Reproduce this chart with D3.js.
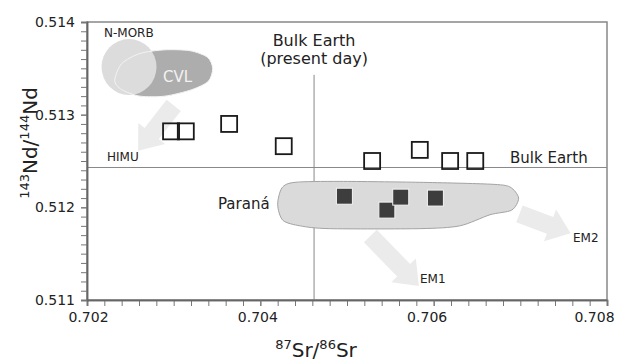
<!DOCTYPE html>
<html>
<head>
<meta charset="utf-8">
<title>Sr-Nd isotopes</title>
<script src="https://d3js.org/d3.v7.min.js"></script>
<style>
  body { margin: 0; background: #fff; }
  text { font-family: "DejaVu Sans", sans-serif; fill: #222; }
</style>
</head>
<body>
<script>
// open squares (samples)
const openSr = [0.70297, 0.70314, 0.70364, 0.70427, 0.70529, 0.70584, 0.70619, 0.70648];
const openNd = [0.51282, 0.51282, 0.51290, 0.51266, 0.51250, 0.51262, 0.51250, 0.51250];

// filled squares (Paraná samples)
const filledSr = [0.70497, 0.70546, 0.70562, 0.70602];
const filledNd = [0.51212, 0.51197, 0.51211, 0.51210];

// bulk earth reference
const bulkSr = 0.70462;
const bulkNd = 0.51243;
const bulkLineTop = 0.51343;

// fields
const nmorbCentre = [0.702485, 0.513514];
const nmorbRadius = [0.000317, 0.000302];
const cvlField = [
  [0.70232, 0.51337], [0.70240, 0.51355], [0.70261, 0.51366], [0.70290, 0.51370],
  [0.70319, 0.51369], [0.70339, 0.51362], [0.70345, 0.51350], [0.70340, 0.51336],
  [0.70321, 0.51327], [0.70290, 0.51320], [0.70261, 0.51320], [0.70240, 0.51327]
];
const paranaField = [
  [0.70420, 0.51203], [0.70425, 0.51221], [0.70440, 0.51227], [0.70492, 0.51228],
  [0.70584, 0.51227], [0.70665, 0.51225], [0.70688, 0.51222], [0.70698, 0.51210],
  [0.70690, 0.51197], [0.70665, 0.51192], [0.70630, 0.51180], [0.70584, 0.51177],
  [0.70480, 0.51177], [0.70446, 0.51180], [0.70426, 0.51186]
];

// trend arrows: [from, to]
const arrows = [
  [[0.70300, 0.51310], [0.70259, 0.51261]],   // HIMU
  [[0.70527, 0.51169], [0.70583, 0.51115]],   // EM1
  [[0.70699, 0.51193], [0.70758, 0.51172]]    // EM2
];

const xMajor = [0.702, 0.704, 0.706, 0.708];
const yMajor = [0.511, 0.512, 0.513, 0.514];

const W = 618, H = 362;
const svg = d3.select("body").append("svg")
  .attr("width", W).attr("height", H);

const x = d3.scaleLinear().domain([0.702, 0.708]).range([87, 607]);
const y = d3.scaleLinear().domain([0.511, 0.514]).range([300, 22]);

// frame
svg.append("rect")
  .attr("x", 87).attr("y", 22)
  .attr("width", 520).attr("height", 278)
  .attr("fill", "none").attr("stroke", "#888").attr("stroke-width", 1.5);

// reference lines
svg.append("line")
  .attr("x1", x(0.702)).attr("x2", x(0.708))
  .attr("y1", y(bulkNd)).attr("y2", y(bulkNd))
  .attr("stroke", "#888").attr("stroke-width", 1);
svg.append("line")
  .attr("x1", x(bulkSr)).attr("x2", x(bulkSr))
  .attr("y1", y(bulkLineTop)).attr("y2", y(0.511))
  .attr("stroke", "#888").attr("stroke-width", 1);

// arrows
function arrowPath(a) {
  const x0 = x(a[0][0]), y0 = y(a[0][1]);
  const x1 = x(a[1][0]), y1 = y(a[1][1]);
  const len = Math.hypot(x1 - x0, y1 - y0);
  const ux = (x1 - x0) / len, uy = (y1 - y0) / len;
  const nx = -uy, ny = ux;
  const sw = 9, hw = 17, hl = 22;
  const bx = x1 - ux * hl, by = y1 - uy * hl;
  const pts = [
    [x0 + nx * sw, y0 + ny * sw],
    [bx + nx * sw, by + ny * sw],
    [bx + nx * hw, by + ny * hw],
    [x1, y1],
    [bx - nx * hw, by - ny * hw],
    [bx - nx * sw, by - ny * sw],
    [x0 - nx * sw, y0 - ny * sw]
  ];
  return "M" + pts.map(p => p.join(",")).join("L") + "Z";
}
svg.append("g").selectAll("path").data(arrows).join("path")
  .attr("d", arrowPath)
  .attr("fill", "#ebebeb");

// fields
const closed = d3.line().x(d => x(d[0])).y(d => y(d[1])).curve(d3.curveCardinalClosed.tension(0.2));

svg.append("path").datum(cvlField)
  .attr("d", closed).attr("fill", "#adadad");
svg.append("ellipse")
  .attr("cx", x(nmorbCentre[0])).attr("cy", y(nmorbCentre[1]))
  .attr("rx", x(nmorbCentre[0] + nmorbRadius[0]) - x(nmorbCentre[0]))
  .attr("ry", y(nmorbCentre[1] - nmorbRadius[1]) - y(nmorbCentre[1]))
  .attr("fill", "#dcdcdc");
svg.append("path").datum(cvlField)
  .attr("d", closed).attr("fill", "none")
  .attr("stroke", "#f4f4f4").attr("stroke-width", 1);

svg.append("path").datum(paranaField)
  .attr("d", closed)
  .attr("fill", "#dadada").attr("stroke", "#a3a3a3").attr("stroke-width", 1);

// axes
const xAxisMinor = d3.axisBottom(x).tickValues(d3.range(0, 31).map(i => 0.702 + i * 0.0002))
  .tickSize(6).tickFormat("");
const xAxisMajor = d3.axisBottom(x).tickValues(xMajor).tickSize(6).tickPadding(6)
  .tickFormat(d3.format(".3f"));
const yAxisMinor = d3.axisLeft(y).tickValues(d3.range(0, 31).map(i => 0.511 + i * 0.0001))
  .tickSize(6).tickFormat("");
const yAxisMajor = d3.axisLeft(y).tickValues(yMajor).tickSize(6).tickPadding(6)
  .tickFormat(d3.format(".3f"));

function styleAxis(g) {
  g.select(".domain").attr("stroke", "#666").attr("stroke-width", 1.5);
  g.selectAll(".tick line").attr("stroke", "#777");
  g.selectAll(".tick text").attr("fill", "#222")
    .style("font-family", "DejaVu Sans, sans-serif").style("font-size", "14px");
}
svg.append("g").attr("transform", "translate(0,300)").call(xAxisMinor).call(styleAxis);
const gx = svg.append("g").attr("transform", "translate(0,300)").call(xAxisMajor).call(styleAxis);
// labels in the original drift left towards the right edge
const xLabelShift = [1, -3, -7, -13];
gx.selectAll(".tick text").attr("dx", (d, i) => xLabelShift[i]);
svg.append("g").attr("transform", "translate(87,0)").call(yAxisMinor).call(styleAxis);
svg.append("g").attr("transform", "translate(87,0)").call(yAxisMajor).call(styleAxis);

// samples
const sq = 16;
svg.append("g").selectAll("rect").data(openSr).join("rect")
  .attr("x", (d, i) => x(d) - sq / 2)
  .attr("y", (d, i) => y(openNd[i]) - sq / 2)
  .attr("width", sq).attr("height", sq)
  .attr("fill", "none").attr("stroke", "#1a1a1a").attr("stroke-width", 1.8);

svg.append("g").selectAll("rect").data(filledSr).join("rect")
  .attr("x", (d, i) => x(d) - sq / 2)
  .attr("y", (d, i) => y(filledNd[i]) - sq / 2)
  .attr("width", sq).attr("height", sq)
  .attr("fill", "#3d3d3d").attr("stroke", "#f4f4f4").attr("stroke-width", 1);

// labels
const labels = [
  { t: "N-MORB", x: 104, y: 37, s: 12 },
  { t: "HIMU", x: 107, y: 161, s: 12 },
  { t: "Paraná", x: 218, y: 209, s: 15 },
  { t: "Bulk Earth", x: 510, y: 163, s: 15 },
  { t: "EM1", x: 420, y: 283, s: 12 },
  { t: "EM2", x: 573, y: 242, s: 12 }
];
svg.append("g").selectAll("text").data(labels).join("text")
  .attr("x", d => d.x).attr("y", d => d.y)
  .style("font-size", d => d.s + "px")
  .text(d => d.t);

svg.append("text").attr("x", 163).attr("y", 82)
  .style("font-size", "15px").style("fill", "#f2f2f2").text("CVL");

svg.append("text").attr("x", x(bulkSr)).attr("y", 46)
  .attr("text-anchor", "middle").style("font-size", "16px").text("Bulk Earth");
svg.append("text").attr("x", x(bulkSr)).attr("y", 64)
  .attr("text-anchor", "middle").style("font-size", "16px").text("(present day)");

// axis titles
const xt = svg.append("text").attr("x", 316).attr("y", 357)
  .attr("text-anchor", "middle").style("font-size", "20px");
xt.append("tspan").attr("dy", -8).style("font-size", "13px").text("87");
xt.append("tspan").attr("dy", 8).text("Sr/");
xt.append("tspan").attr("dy", -8).style("font-size", "13px").text("86");
xt.append("tspan").attr("dy", 8).text("Sr");

const yt = svg.append("text")
  .attr("transform", "translate(37,143) rotate(-90)")
  .attr("text-anchor", "middle").style("font-size", "20px");
yt.append("tspan").attr("dy", -8).style("font-size", "13px").text("143");
yt.append("tspan").attr("dy", 8).text("Nd/");
yt.append("tspan").attr("dy", -8).style("font-size", "13px").text("144");
yt.append("tspan").attr("dy", 8).text("Nd");
</script>
</body>
</html>
